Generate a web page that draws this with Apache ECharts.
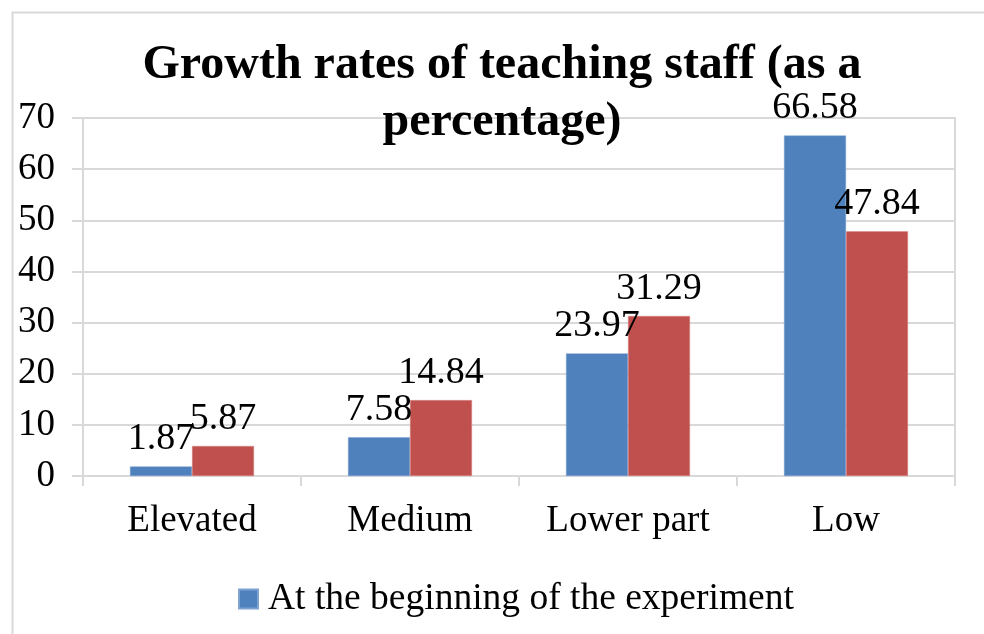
<!DOCTYPE html>
<html>
<head>
<meta charset="utf-8">
<script src="https://cdn.jsdelivr.net/npm/echarts@6/dist/echarts.min.js"></script>
<style>html,body{margin:0;padding:0;background:#fff}#c{width:984px;height:634px}</style>
</head>
<body>
<div id="c"></div>
<script>
var titleText = 'Growth rates of teaching staff (as a\npercentage)';
var categories = ['Elevated', 'Medium', 'Lower part', 'Low'];
var seriesNames = ['At the beginning of the experiment', 'At the end of the experiment'];
var beginValues = [1.87, 7.58, 23.97, 66.58];
var endValues = [5.87, 14.84, 31.29, 47.84];
var yMin = 0, yMax = 70, yInterval = 10;

var FONT = "'Liberation Serif', 'Times New Roman', serif";
var chart = echarts.init(document.getElementById('c'), null, {renderer: 'canvas'});
var labelStyle = {show: true, position: 'top', distance: 8, color: '#000', fontFamily: FONT, fontSize: 38};
chart.setOption({
  animation: false,
  backgroundColor: '#fff',
  graphic: [{
    type: 'rect', left: 10, top: 10, silent: true,
    shape: {x: 0, y: 0, width: 1100, height: 800},
    style: {fill: 'none', stroke: '#d9d9d9', lineWidth: 2}
  }],
  title: {
    text: titleText, left: 502, textAlign: 'center', top: 37, padding: 0,
    textStyle: {fontFamily: FONT, fontSize: 48, fontWeight: 'bold', color: '#000', lineHeight: 57}
  },
  legend: {
    data: [seriesNames[0]], left: 238, top: 580, padding: 0, icon: 'rect', itemWidth: 19, itemHeight: 19, itemGap: 10,
    textStyle: {fontFamily: FONT, fontSize: 37.5, color: '#000', padding: [0, 0, 0, 5]}
  },
  grid: {left: 83, right: 29, top: 118, bottom: 158, show: true, borderColor: '#d9d9d9', borderWidth: 2},
  xAxis: {
    type: 'category', data: categories,
    axisLine: {lineStyle: {color: '#d9d9d9', width: 2}},
    axisTick: {show: true, length: 10, alignWithLabel: false, lineStyle: {color: '#d9d9d9', width: 2}},
    axisLabel: {margin: 27, color: '#000', fontFamily: FONT, fontSize: 37}
  },
  yAxis: {
    type: 'value', min: yMin, max: yMax, interval: yInterval,
    axisLine: {show: true, lineStyle: {color: '#d9d9d9', width: 2}},
    axisTick: {show: true, length: 11, lineStyle: {color: '#d9d9d9', width: 2}},
    splitLine: {lineStyle: {color: '#d9d9d9', width: 2}},
    axisLabel: {margin: 28, color: '#000', fontFamily: FONT, fontSize: 37}
  },
  series: [
    {name: seriesNames[0], type: 'bar', data: beginValues, barWidth: 62, barGap: '0%',
     itemStyle: {color: '#4F81BD', borderColor: '#7FA3D1', borderWidth: 0.5}, label: labelStyle},
    {name: seriesNames[1], type: 'bar', data: endValues, barWidth: 62, barGap: '0%',
     itemStyle: {color: '#C0504D', borderColor: '#D98A88', borderWidth: 0.5}, label: labelStyle}
  ]
});
</script>
</body>
</html>
